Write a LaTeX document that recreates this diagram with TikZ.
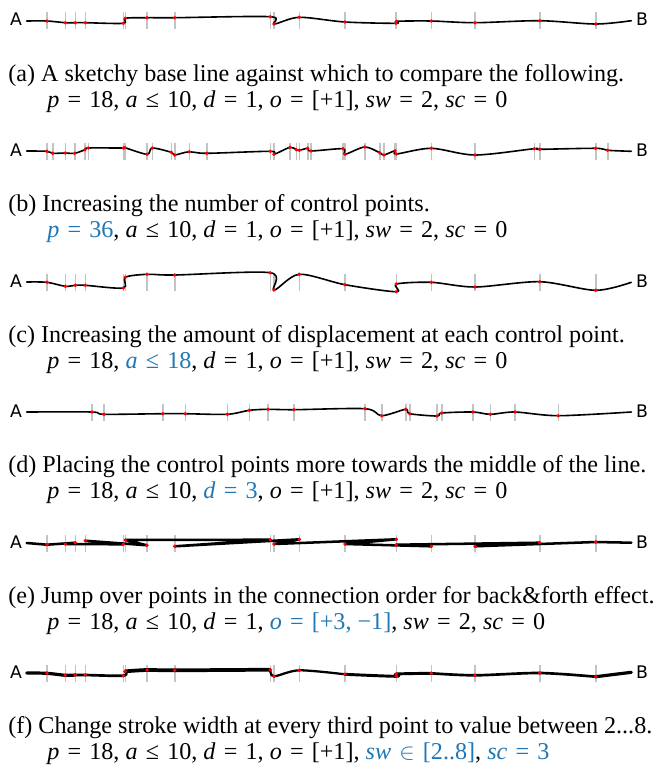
\documentclass[tikz,border=0pt]{standalone}
\usepackage{fontspec}
\setmainfont{Liberation Serif}
\newfontfamily\labfont{DejaVu Sans}
\definecolor{hl}{RGB}{31,119,180}
\definecolor{tickgray}{RGB}{195,195,195}
\newcommand\mi[1]{\textit{#1}}
\newcommand\Eq{\hspace{0.34em}=\hspace{0.34em}}
\newcommand\Le{\hspace{0.34em}≤\hspace{0.34em}}
\newcommand\In{\hspace{0.34em}$\in$\hspace{0.34em}}
\newcommand\ticksat[2]{\foreach \px/\py in #2 {\draw[tickline] (\px,#1-8.5) -- (\px,#1+8.5);}}
\newcommand\dotsat[1]{\foreach \px/\py in #1 {\fill[dot] (\px,\py) circle (1.9);}}
\begin{document}
\begin{tikzpicture}[x=0.75pt,y=-0.75pt,
  curve/.style={line width=1.2pt, line join=round, line cap=round},
  strokeline/.style={line width=1.9pt, line join=round, line cap=round},
  tickline/.style={draw=tickgray, line width=1.2pt},
  dot/.style={fill=red},
  endlabel/.style={font=\labfont\fontsize{13}{15}\selectfont, inner sep=0pt},
  captxt/.style={anchor=base west, inner sep=0pt, font=\fontsize{18.1}{22}\selectfont}]
\useasboundingbox (0,0) rectangle (666,769);

% ---------- (a)
\def\Pa{47/21, 65.3/22.7, 75.3/22.7, 85.3/22.7, 123.3/23.3, 125.3/18.3, 147/17.7, 174.7/17.7, 270.3/16.7, 274/24, 299.3/17.3, 345/22, 396/23.3, 396.5/21.3, 431.3/21, 475/22.7, 539.7/20.7, 595.7/24}
\ticksat{20.7}{\Pa}
\node[endlabel] (Aa) at (16,19.5) {A};
\node[endlabel] (Ba) at (642,19.5) {B};
\draw[curve] plot[smooth,tension=0.5] coordinates {(26.7,21) (47,21) (65.3,22.7) (75.3,22.7) (85.3,22.7) (123.3,23.3) (125.3,18.3) (147,17.7) (174.7,17.7) (270.3,16.7) (274,24) (299.3,17.3) (345,22) (396,23.3) (396.5,21.3) (431.3,21) (475,22.7) (539.7,20.7) (595.7,24) (631.3,20.7)};
\dotsat{\Pa}
\node[captxt] (ca1) at (8,81) {(a) A sketchy base line against which to compare the following.};
\node[captxt] (ca2) at (47,107) {\mi{p}\Eq 18, \mi{a}\Le 10, \mi{d}\Eq 1, \mi{o}\Eq [+1], \mi{sw}\Eq 2, \mi{sc}\Eq 0};

% ---------- (b)
\def\Pb{47/151.3, 52.7/153.3, 65.3/153, 74.7/153.3, 85/149.7, 88.3/148, 123.3/148, 125/147.7, 147/154.3, 152.3/148, 171.3/152.3, 174.7/155, 189.3/151.7, 206.7/153.3, 270.3/151.3, 274/154.3, 290/147.3, 296.3/149.7, 299.3/150.3, 307.7/148.3, 311/151, 343/148.7, 345/154.3, 364.7/147, 379.7/152.7, 384/155, 395/150.7, 396.3/154, 431.3/148.3, 475/155, 534.3/148.7, 539.7/149.3, 595.7/148.3, 607.7/150.3}
\ticksat{151}{\Pb}
\node[endlabel] (Ab) at (16,149.8) {A};
\node[endlabel] (Bb) at (642,149.8) {B};
\draw[curve] plot[smooth,tension=0.5] coordinates {(26.7,151) (47,151.3) (52.7,153.3) (65.3,153) (74.7,153.3) (85,149.7) (88.3,148) (123.3,148) (125,147.7) (147,154.3) (152.3,148) (171.3,152.3) (174.7,155) (189.3,151.7) (206.7,153.3) (270.3,151.3) (274,154.3) (290,147.3) (296.3,149.7) (299.3,150.3) (307.7,148.3) (311,151) (343,148.7) (345,154.3) (364.7,147) (379.7,152.7) (384,155) (395,150.7) (396.3,154) (431.3,148.3) (475,155) (534.3,148.7) (539.7,149.3) (595.7,148.3) (607.7,150.3) (631.3,151.3)};
\dotsat{\Pb}
\node[captxt] (cb1) at (8,211.5) {(b) Increasing the number of control points.};
\node[captxt] (cb2) at (47,237.5) {\textcolor{hl}{\mi{p}\Eq 36}, \mi{a}\Le 10, \mi{d}\Eq 1, \mi{o}\Eq [+1], \mi{sw}\Eq 2, \mi{sc}\Eq 0};

% ---------- (c)
\def\Pc{47/282.3, 65.3/286.3, 75.3/285.3, 85.3/285.3, 123.3/288, 125.3/277.3, 147/274.3, 174.7/275, 270.3/272.7, 274/290, 299.3/274.3, 345/284.7, 396.3/291.7, 396.3/284, 431.3/282.3, 475/287, 539.7/281.7, 595.7/290.3}
\ticksat{282}{\Pc}
\node[endlabel] (Ac) at (16,280.8) {A};
\node[endlabel] (Bc) at (642,280.8) {B};
\draw[curve] plot[smooth,tension=0.5] coordinates {(26.7,282) (47,282.3) (65.3,286.3) (75.3,285.3) (85.3,285.3) (123.3,288) (125.3,277.3) (147,274.3) (174.7,275) (270.3,272.7) (274,290) (299.3,274.3) (345,284.7) (396.3,291.7) (396.3,284) (431.3,282.3) (475,287) (539.7,281.7) (595.7,290.3) (631.3,282.3)};
\dotsat{\Pc}
\node[captxt] (cc1) at (8,342) {(c) Increasing the amount of displacement at each control point.};
\node[captxt] (cc2) at (47,368) {\mi{p}\Eq 18, \textcolor{hl}{\mi{a}\Le 18}, \mi{d}\Eq 1, \mi{o}\Eq [+1], \mi{sw}\Eq 2, \mi{sc}\Eq 0};

% ---------- (d)
\def\Pd{92/412, 104/414.3, 162.7/413.7, 185.3/413.7, 227.3/414.3, 249.3/410.3, 268/409.3, 294/409.7, 365/408.7, 381.7/415.7, 405.7/409.3, 409.7/413.7, 437/416, 441.7/413, 473/412, 490.3/414.3, 515/412, 558.3/415.7}
\ticksat{412}{\Pd}
\node[endlabel] (Ad) at (16,410.8) {A};
\node[endlabel] (Bd) at (642,410.8) {B};
\draw[curve] plot[smooth,tension=0.5] coordinates {(26.7,412) (92,412) (104,414.3) (162.7,413.7) (185.3,413.7) (227.3,414.3) (249.3,410.3) (268,409.3) (294,409.7) (365,408.7) (381.7,415.7) (405.7,409.3) (409.7,413.7) (437,416) (441.7,413) (473,412) (490.3,414.3) (515,412) (558.3,415.7) (631.3,412)};
\dotsat{\Pd}
\node[captxt] (cd1) at (8,472.5) {(d) Placing the control points more towards the middle of the line.};
\node[captxt] (cd2) at (47,498.5) {\mi{p}\Eq 18, \mi{a}\Le 10, \textcolor{hl}{\mi{d}\Eq 3}, \mi{o}\Eq [+1], \mi{sw}\Eq 2, \mi{sc}\Eq 0};

% ---------- (e)
\def\Pe{47/544.7, 65.3/544, 75.3/542.7, 85.3/540.7, 123.3/544.3, 125.3/540, 147/545.3, 174.7/546.3, 270.3/539.7, 274/544, 299.3/539.3, 345/544, 396.3/539.3, 396.3/544.7, 431.3/546.3, 475/546.3, 539.7/542.7, 595.7/542}
\ticksat{543}{\Pe}
\node[endlabel] (Ae) at (16,541.8) {A};
\node[endlabel] (Be) at (642,541.8) {B};
\draw[strokeline] plot coordinates {(26.7,543) (47,544.7) (75.3,542.7) (65.3,544) (123.3,544.3) (85.3,540.7) (147,545.3) (125.3,540) (270.3,539.7) (174.7,546.3) (299.3,539.3) (274,544) (396.3,539.3) (345,544) (431.3,546.3) (396.3,544.7) (539.7,542.7) (475,546.3) (595.7,542) (631.3,542.7)};
\dotsat{\Pe}
\node[captxt] (ce1) at (8,603) {(e) Jump over points in the connection order for back\&forth effect.};
\node[captxt] (ce2) at (47,629) {\mi{p}\Eq 18, \mi{a}\Le 10, \mi{d}\Eq 1, \textcolor{hl}{\mi{o}\Eq [+3, −1]}, \mi{sw}\Eq 2, \mi{sc}\Eq 0};

% ---------- (f)
\def\Pf{47/673.3, 65.3/675.3, 75.3/675, 85.3/675, 123.3/675.7, 125.3/671.3, 147/670, 174.7/670.3, 270.3/669.7, 274/676.3, 299.3/670.3, 345/674.3, 396.3/676.3, 396.3/674, 431.3/673.3, 475/675.3, 539.7/673, 595.7/676.7}
\ticksat{673}{\Pf}
\node[endlabel] (Af) at (16,671.8) {A};
\node[endlabel] (Bf) at (642,671.8) {B};
\draw[curve,line width=2.4pt] plot[smooth,tension=0.5] coordinates {(26.7,673) (47,673.3) (65.3,675.3) (75.3,675)};
\draw[curve,line width=2.0pt] plot[smooth,tension=0.5] coordinates {(75.3,675) (85.3,675) (123.3,675.7) (125.3,671.3)};
\draw[curve,line width=2.8pt] plot[smooth,tension=0.5] coordinates {(125.3,671.3) (147,670) (174.7,670.3) (270.3,669.7)};
\draw[curve,line width=1.7pt] plot[smooth,tension=0.5] coordinates {(270.3,669.7) (274,676.3) (299.3,670.3) (345,674.3)};
\draw[curve,line width=2.2pt] plot[smooth,tension=0.5] coordinates {(345,674.3) (396.3,676.3) (396.3,674) (431.3,673.3)};
\draw[curve,line width=2.0pt] plot[smooth,tension=0.5] coordinates {(431.3,673.3) (475,675.3) (539.7,673) (595.7,676.7)};
\draw[curve,line width=2.4pt] plot[smooth,tension=0.5] coordinates {(595.7,676.7) (631.3,672.3)};
\dotsat{\Pf}
\node[captxt] (cf1) at (8,733.5) {(f) Change stroke width at every third point to value between 2...8.};
\node[captxt] (cf2) at (47,759.5) {\mi{p}\Eq 18, \mi{a}\Le 10, \mi{d}\Eq 1, \mi{o}\Eq [+1], \textcolor{hl}{\mi{sw}\In [2..8]}, \textcolor{hl}{\mi{sc}\Eq 3}};
\end{tikzpicture}
\end{document}
